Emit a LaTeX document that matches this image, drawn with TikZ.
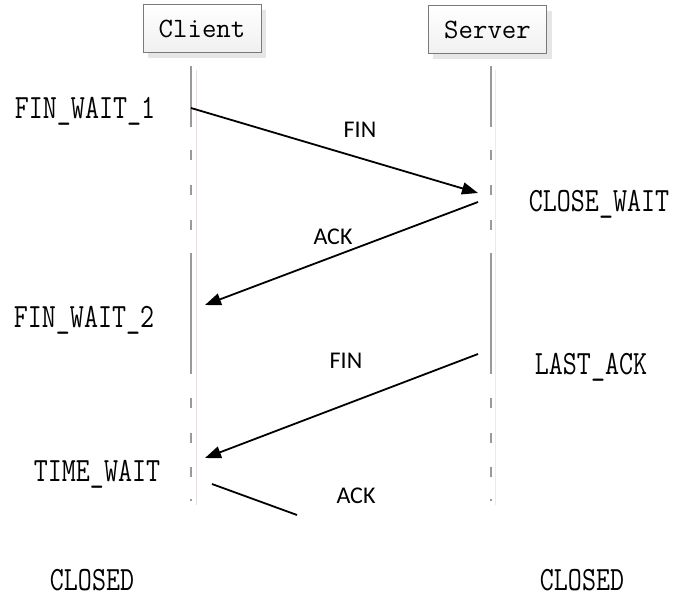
\documentclass[tikz,border=0pt]{standalone}
\usepackage{fontspec}
\newfontfamily\labelfont{Carlito}
\usetikzlibrary{arrows.meta}
\definecolor{lifegray}{HTML}{9A9A9A}
\definecolor{lifepink}{HTML}{F0DCDC}
\definecolor{lifelight}{HTML}{EBEBEB}
\definecolor{boxedge}{HTML}{7A7A7A}
\definecolor{boxshadow}{HTML}{E6E6E6}
\tikzset{
  party/.style={draw=boxedge, line width=1pt, top color=white, bottom color=black!6,
    minimum width=118pt, minimum height=48pt, inner sep=0pt,
    font=\ttfamily\fontsize{28}{28}\selectfont},
  shadowbox/.style={fill=boxshadow, draw=none},
  statelbl/.style={font=\ttfamily\fontsize{34}{34}\selectfont, inner sep=0pt,
    text height=21pt, text depth=0pt, anchor=base, xscale=0.8, transform shape},
  msglbl/.style={font=\labelfont\fontsize{24}{24}\selectfont, inner sep=0pt},
  msg/.style={line width=1.8pt, -{Triangle[length=16pt,width=12pt]}},
  msgcut/.style={line width=1.8pt},
  lifeline/.style={lifegray, line width=1.4pt},
}
\newcommand{\lifeline}[1]{%
  \draw[lifeline] (#1,66) -- (#1,127);
  \draw[lifeline] (#1,150) -- (#1,160);
  \draw[lifeline] (#1,185) -- (#1,195);
  \draw[lifeline] (#1,220) -- (#1,230);
  \draw[lifeline] (#1,253) -- (#1,374);
  \draw[lifeline] (#1,398) -- (#1,408);
  \draw[lifeline] (#1,433) -- (#1,443);
  \draw[lifeline] (#1,467) -- (#1,477);
  \draw[lifeline] (#1,499) -- (#1,501);
}
\begin{document}
\begin{tikzpicture}[x=1pt,y=-1pt]
  \useasboundingbox (0,0) rectangle (677,599);

  % boxes with soft shadow
  \fill[shadowbox] (148,10) rectangle (266,58);
  \fill[shadowbox] (433,11) rectangle (552,59);
  \node[party] (client) at (202,29) {Client};
  \node[party] (server) at (487.5,30) {Server};

  % lifelines
  \draw[lifepink, line width=1pt] (196,70) -- (196,505);
  \draw[lifelight, line width=1pt] (495,70) -- (495,505);
  \lifeline{191}
  \lifeline{491}

  % message end points
  \coordinate (c1) at (191,108);
  \coordinate (s1) at (478,193);
  \coordinate (s2) at (478,202);
  \coordinate (c2) at (205,305);
  \coordinate (s3) at (478,354);
  \coordinate (c3) at (205,458);
  \coordinate (c4) at (212,484);
  \coordinate (s4) at (297,515);

  \draw[msg] (c1) -- (s1);
  \draw[msg] (s2) -- (c2);
  \draw[msg] (s3) -- (c3);
  \draw[msgcut] (c4) -- (s4);

  % message labels
  \node[msglbl] (m1) at (360,130) {FIN};
  \node[msglbl] (m2) at (333,237) {ACK};
  \node[msglbl] (m3) at (346,361) {FIN};
  \node[msglbl] (m4) at (356,496) {ACK};

  % connection states (placed by baseline)
  \node[statelbl] (st1) at (85,118.5) {FIN\_WAIT\_1};
  \node[statelbl] (st2) at (84,327.5) {FIN\_WAIT\_2};
  \node[statelbl] (st3) at (97,481.5) {TIME\_WAIT};
  \node[statelbl] (st4) at (92,590.5) {CLOSED};
  \node[statelbl] (st5) at (599,211.5) {CLOSE\_WAIT};
  \node[statelbl] (st6) at (591,374.5) {LAST\_ACK};
  \node[statelbl] (st7) at (582,590) {CLOSED};
\end{tikzpicture}
\end{document}
